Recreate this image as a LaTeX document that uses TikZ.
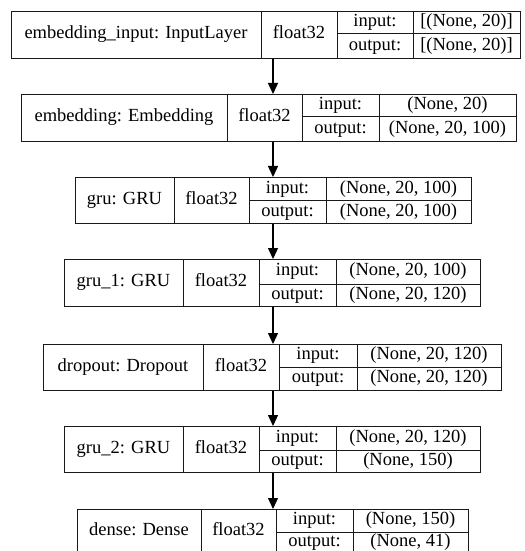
\documentclass[tikz,border=0pt]{standalone}
\usepackage{fontspec}
\setmainfont{Liberation Serif}
\newfontfamily\tnrfont{Liberation Serif}
\usetikzlibrary{arrows.meta}
\tikzset{
  cell/.style={draw=black!90, line width=1bp},
  lbl/.style={font=\tnrfont\fontsize{18.5bp}{22bp}\selectfont, inner sep=0pt, text height=12.5bp, text depth=4bp},
  arr/.style={draw=black, line width=1.2bp, -{Triangle[width=10bp,length=11bp]}},
}
% #1 name, #2 L, #3 d1, #4 d2, #5 d3, #6 R, #7 T, #8 B, #9 M, then label, in, out
\newcommand{\layerbox}[9]{%
  \node[cell, inner sep=0pt, anchor=north west, minimum width={(#6-#2)*1bp}, minimum height={(#8-#7)*1bp}] (#1) at (#2,#7) {};
  \draw[cell] (#3,#7) -- (#3,#8);
  \draw[cell] (#4,#7) -- (#4,#8);
  \draw[cell] (#5,#7) -- (#5,#8);
  \draw[cell] (#4,#9) -- (#6,#9);
  \def\curL{#2}\def\curA{#3}\def\curB{#4}\def\curC{#5}\def\curR{#6}\def\curT{#7}\def\curBo{#8}\def\curM{#9}%
  \def\curN{#1}%
  \layertext}
\newcommand{\layertext}[3]{%
  \node[lbl] (\curN-name) at ({(\curL+\curA)/2},{(\curT+\curBo)/2}) {#1};
  \node[lbl] (\curN-type) at ({(\curA+\curB)/2},{(\curT+\curBo)/2}) {float32};
  \node[lbl] (\curN-il) at ({(\curB+\curC)/2},{(\curT+\curM)/2}) {input:};
  \node[lbl] (\curN-ol) at ({(\curB+\curC)/2},{(\curM+\curBo)/2}) {output:};
  \node[lbl] (\curN-iv) at ({(\curC+\curR)/2},{(\curT+\curM)/2}) {#2};
  \node[lbl] (\curN-ov) at ({(\curC+\curR)/2},{(\curM+\curBo)/2}) {#3};
}
\begin{document}
\begin{tikzpicture}[x=1bp,y=-1bp]
\useasboundingbox (0,0) rectangle (525,551);
\clip (0,0) rectangle (525,551);
\fill[white] (0,0) rectangle (525,551);
\layerbox{b1}{11}{261}{337}{413}{520}{11}{58}{34}{embedding\_input: InputLayer}{[(None, 20)]}{[(None, 20)]}
\layerbox{b2}{21}{227}{302}{379}{516}{94}{141}{117}{embedding: Embedding}{(None, 20)}{(None, 20, 100)}
\layerbox{b3}{75}{174}{249}{326}{471}{177}{223}{201}{gru: GRU}{(None, 20, 100)}{(None, 20, 100)}
\layerbox{b4}{64}{183}{259}{336}{480}{259}{306}{284}{gru\_1: GRU}{(None, 20, 100)}{(None, 20, 120)}
\layerbox{b5}{43}{203}{279}{357}{501}{344}{390}{367}{dropout: Dropout}{(None, 20, 120)}{(None, 20, 120)}
\layerbox{b6}{64}{183}{259}{336}{480}{426}{472}{450}{gru\_2: GRU}{(None, 20, 120)}{(None, 150)}
\layerbox{b7}{77}{201}{276}{353}{468}{509}{553}{532}{dense: Dense}{(None, 150)}{(None, 41)}
\coordinate (ax) at (273,0);
\draw[arr] (b1.south -| ax) -- (b2.north -| ax);
\draw[arr] (b2.south -| ax) -- (b3.north -| ax);
\draw[arr] (b3.south -| ax) -- (b4.north -| ax);
\draw[arr] (b4.south -| ax) -- (b5.north -| ax);
\draw[arr] (b5.south -| ax) -- (b6.north -| ax);
\draw[arr] (b6.south -| ax) -- (b7.north -| ax);
\end{tikzpicture}
\end{document}
